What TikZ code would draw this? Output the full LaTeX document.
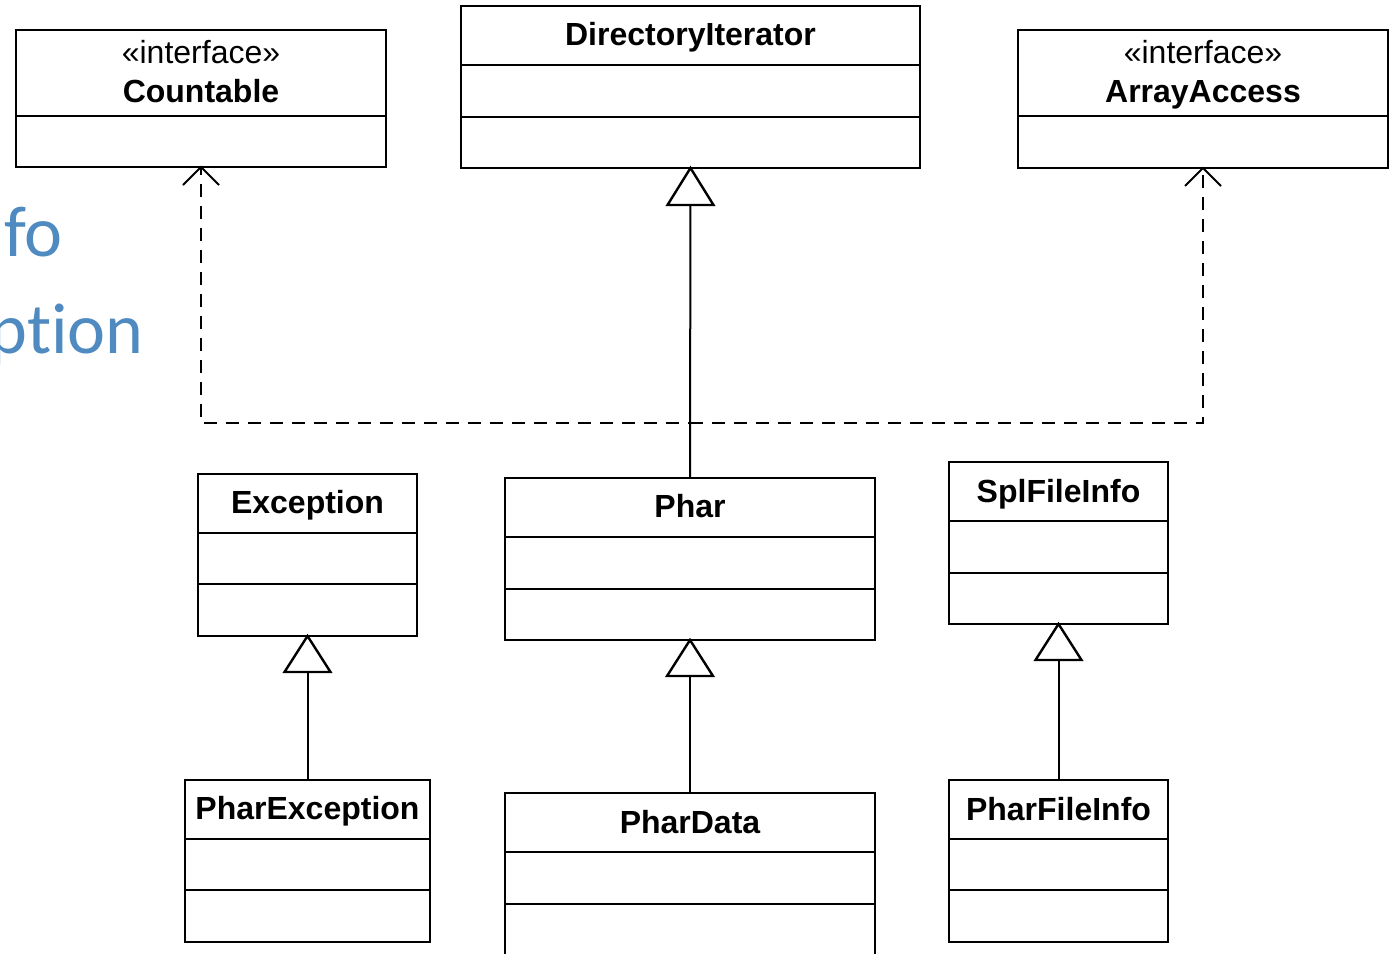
\documentclass[tikz,border=0pt]{standalone}
\usepackage{fontspec}
\setmainfont{Liberation Sans}
\newfontfamily\calib[Ligatures=NoCommon]{Carlito}
\definecolor{slideblue}{RGB}{79,139,192}
\begin{document}
\begin{tikzpicture}[x=1pt,y=-1pt,
  clsbox/.style={draw,line width=2.8pt,inner sep=0pt,outer sep=0pt,anchor=north west},
  divline/.style={line width=2.8pt},
  ttl/.style={font=\fontsize{32}{36}\selectfont\bfseries,inner sep=0pt,anchor=base},
  stereo/.style={font=\fontsize{32}{36}\selectfont,inner sep=0pt,anchor=base},
  gen/.style={line width=2pt},
  tri/.style={line width=2.4pt,fill=white,line join=miter},
  real/.style={line width=2pt,dash pattern=on 13pt off 9pt},
  openhead/.style={line width=2pt},
  bg/.style={font=\fontsize{72}{80}\selectfont\calib,text=slideblue,inner sep=0pt}]
\useasboundingbox (0,0) rectangle (1397,953);
\clip (0,0) rectangle (1397,953);

% background slide text (clipped at the left edge, as in the reference)
\node[bg,anchor=base east] (bgA) at (63,256) {fo};
\node[bg,anchor=base east] (bgB) at (144,353) {ption};

% Countable
\node[clsbox,minimum width=370pt,minimum height=137pt] (cnt) at (16,30) {};
\draw[divline] (16,116) -- (386,116);
\node[stereo] (cntS) at (201,63) {«interface»};
\node[ttl] (cntT) at (201,102) {Countable};

% DirectoryIterator
\node[clsbox,minimum width=459pt,minimum height=162pt] (di) at (461,6) {};
\draw[divline] (461,65) -- (920,65);
\draw[divline] (461,117) -- (920,117);
\node[ttl] (diT) at (690.5,45) {DirectoryIterator};

% ArrayAccess
\node[clsbox,minimum width=370pt,minimum height=138pt] (aa) at (1018,30) {};
\draw[divline] (1018,116) -- (1388,116);
\node[stereo] (aaS) at (1203,63) {«interface»};
\node[ttl] (aaT) at (1203,102) {ArrayAccess};

% Exception
\node[clsbox,minimum width=219pt,minimum height=162pt] (exc) at (198,474) {};
\draw[divline] (198,533) -- (417,533);
\draw[divline] (198,584) -- (417,584);
\node[ttl] (excT) at (307.5,513) {Exception};

% Phar
\node[clsbox,minimum width=370pt,minimum height=162pt] (phar) at (505,478) {};
\draw[divline] (505,537) -- (875,537);
\draw[divline] (505,589) -- (875,589);
\node[ttl] (pharT) at (690,517) {Phar};

% SplFileInfo
\node[clsbox,minimum width=219pt,minimum height=162pt] (spl) at (949,462) {};
\draw[divline] (949,521) -- (1168,521);
\draw[divline] (949,573) -- (1168,573);
\node[ttl] (splT) at (1058.5,502) {SplFileInfo};

% PharException
\node[clsbox,minimum width=245pt,minimum height=162pt] (pexc) at (185,780) {};
\draw[divline] (185,839) -- (430,839);
\draw[divline] (185,890) -- (430,890);
\node[ttl] (pexcT) at (307.5,819) {PharException};

% PharData
\node[clsbox,minimum width=370pt,minimum height=180pt] (pdata) at (505,793) {};
\draw[divline] (505,852) -- (875,852);
\draw[divline] (505,904) -- (875,904);
\node[ttl] (pdataT) at (690,833) {PharData};

% PharFileInfo
\node[clsbox,minimum width=219pt,minimum height=162pt] (pfi) at (949,780) {};
\draw[divline] (949,839) -- (1168,839);
\draw[divline] (949,890) -- (1168,890);
\node[ttl] (pfiT) at (1058.5,820) {PharFileInfo};

% realizations (dashed)
\coordinate (junc) at (690,423);
\draw[real] (phar.north) -- (junc) -| (cnt.south);
\draw[real] (junc) -| (aa.south);
\draw[openhead] ([xshift=-18pt,yshift=-18pt]cnt.south) -- (cnt.south) -- ([xshift=18pt,yshift=-18pt]cnt.south);
\draw[openhead] ([xshift=-18pt,yshift=-18pt]aa.south) -- (aa.south) -- ([xshift=18pt,yshift=-18pt]aa.south);

% generalizations
\draw[gen] (phar.north) -- (di.south);
\draw[tri] (di.south) -- ++(-23,37) -- ++(46,0) -- cycle;
\draw[gen] (pexc.north) -- (exc.south);
\draw[tri] (exc.south) -- ++(-23,36) -- ++(46,0) -- cycle;
\draw[gen] (pdata.north) -- (phar.south);
\draw[tri] (phar.south) -- ++(-23,36) -- ++(46,0) -- cycle;
\draw[gen] (pfi.north) -- (spl.south);
\draw[tri] (spl.south) -- ++(-23,36) -- ++(46,0) -- cycle;
\end{tikzpicture}
\end{document}
